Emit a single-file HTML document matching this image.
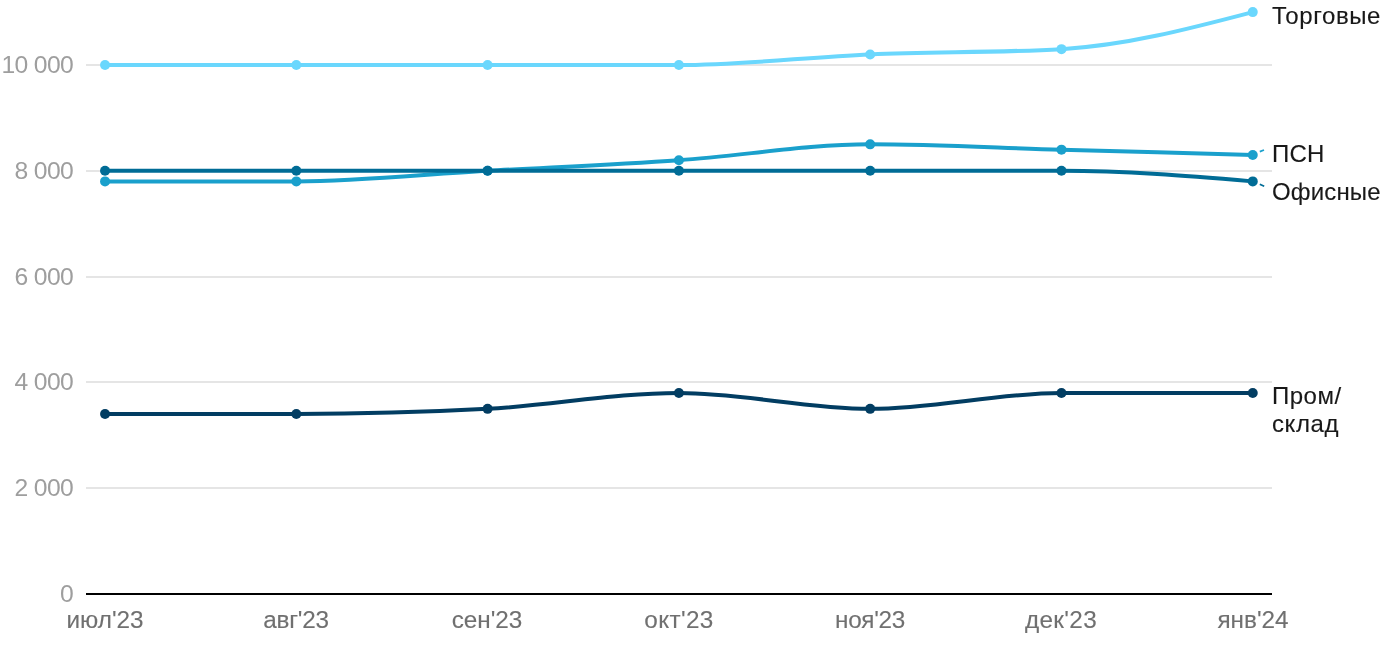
<!DOCTYPE html><html lang="ru"><head><meta charset="utf-8"><title>chart</title><style>

html,body{margin:0;padding:0;background:#fff;}
body{width:1400px;height:650px;position:relative;overflow:hidden;font-family:"Liberation Sans",sans-serif;}
svg{position:absolute;left:0;top:0;}
.yl,.xl,.ll{will-change:transform;}
.yl{position:absolute;left:0;width:73.1px;text-align:right;font-size:24.7px;line-height:24px;color:#9e9e9e;white-space:pre;letter-spacing:-0.65px;}
.xl{position:absolute;top:605.8px;width:160px;margin-left:-80px;text-align:center;font-size:24.3px;line-height:28px;color:#707070;white-space:nowrap;-webkit-text-stroke:0.12px #707070;}
.ll{position:absolute;left:1272px;font-size:24px;line-height:27.6px;color:#181818;white-space:nowrap;-webkit-text-stroke:0.12px #181818;}

</style></head><body>
<svg width="1400" height="650" viewBox="0 0 1400 650"><rect x="86" y="487" width="1186" height="2" fill="#e5e5e5"/><rect x="86" y="381" width="1186" height="2" fill="#e5e5e5"/><rect x="86" y="276" width="1186" height="2" fill="#e5e5e5"/><rect x="86" y="170" width="1186" height="2" fill="#e5e5e5"/><rect x="86" y="64" width="1186" height="2" fill="#e5e5e5"/><path d="M105.05,65.00C168.81,65.00,232.57,65.00,296.33,65.00C360.09,65.00,423.86,65.00,487.62,65.00C551.38,65.00,615.14,65.00,678.90,65.00C742.66,65.00,806.42,57.06,870.18,54.42C933.94,51.77,997.71,52.66,1061.47,49.13C1125.23,45.60,1188.99,28.85,1252.75,12.10" fill="none" stroke="#6ad7fd" stroke-width="4.0" stroke-linejoin="round" stroke-linecap="round"/><circle cx="105.05" cy="65.00" r="5.0" fill="#6ad7fd"/><circle cx="296.33" cy="65.00" r="5.0" fill="#6ad7fd"/><circle cx="487.62" cy="65.00" r="5.0" fill="#6ad7fd"/><circle cx="678.90" cy="65.00" r="5.0" fill="#6ad7fd"/><circle cx="870.18" cy="54.42" r="5.0" fill="#6ad7fd"/><circle cx="1061.47" cy="49.13" r="5.0" fill="#6ad7fd"/><circle cx="1252.75" cy="12.10" r="5.0" fill="#6ad7fd"/><path d="M105.05,181.38C168.81,181.38,232.57,181.38,296.33,181.38C360.09,181.38,423.86,174.33,487.62,170.80C551.38,167.27,615.14,164.63,678.90,160.22C742.66,155.81,806.42,144.35,870.18,144.35C933.94,144.35,997.71,147.88,1061.47,149.64C1125.23,151.40,1188.99,153.17,1252.75,154.93" fill="none" stroke="#1aa0cc" stroke-width="4.0" stroke-linejoin="round" stroke-linecap="round"/><circle cx="105.05" cy="181.38" r="5.0" fill="#1aa0cc"/><circle cx="296.33" cy="181.38" r="5.0" fill="#1aa0cc"/><circle cx="487.62" cy="170.80" r="5.0" fill="#1aa0cc"/><circle cx="678.90" cy="160.22" r="5.0" fill="#1aa0cc"/><circle cx="870.18" cy="144.35" r="5.0" fill="#1aa0cc"/><circle cx="1061.47" cy="149.64" r="5.0" fill="#1aa0cc"/><circle cx="1252.75" cy="154.93" r="5.0" fill="#1aa0cc"/><path d="M105.05,170.80C168.81,170.80,232.57,170.80,296.33,170.80C360.09,170.80,423.86,170.80,487.62,170.80C551.38,170.80,615.14,170.80,678.90,170.80C742.66,170.80,806.42,170.80,870.18,170.80C933.94,170.80,997.71,170.80,1061.47,170.80C1125.23,170.80,1188.99,176.09,1252.75,181.38" fill="none" stroke="#006c96" stroke-width="4.0" stroke-linejoin="round" stroke-linecap="round"/><circle cx="105.05" cy="170.80" r="5.0" fill="#006c96"/><circle cx="296.33" cy="170.80" r="5.0" fill="#006c96"/><circle cx="487.62" cy="170.80" r="5.0" fill="#006c96"/><circle cx="678.90" cy="170.80" r="5.0" fill="#006c96"/><circle cx="870.18" cy="170.80" r="5.0" fill="#006c96"/><circle cx="1061.47" cy="170.80" r="5.0" fill="#006c96"/><circle cx="1252.75" cy="181.38" r="5.0" fill="#006c96"/><path d="M105.05,414.00C168.81,414.00,232.57,414.00,296.33,414.00C360.09,414.00,423.86,412.28,487.62,408.85C551.38,405.42,615.14,392.98,678.90,392.98C742.66,392.98,806.42,408.85,870.18,408.85C933.94,408.85,997.71,392.98,1061.47,392.98C1125.23,392.98,1188.99,392.98,1252.75,392.98" fill="none" stroke="#023d62" stroke-width="4.0" stroke-linejoin="round" stroke-linecap="round"/><circle cx="105.05" cy="414.00" r="5.0" fill="#023d62"/><circle cx="296.33" cy="414.00" r="5.0" fill="#023d62"/><circle cx="487.62" cy="408.85" r="5.0" fill="#023d62"/><circle cx="678.90" cy="392.98" r="5.0" fill="#023d62"/><circle cx="870.18" cy="408.85" r="5.0" fill="#023d62"/><circle cx="1061.47" cy="392.98" r="5.0" fill="#023d62"/><circle cx="1252.75" cy="392.98" r="5.0" fill="#023d62"/><rect x="86" y="593" width="1186" height="2" fill="#000"/><line x1="1259.8" y1="151.6" x2="1264.0" y2="150.0" stroke="#1aa0cc" stroke-width="1.8"/><line x1="1259.8" y1="184.3" x2="1264.2" y2="186.3" stroke="#006c96" stroke-width="1.8"/></svg>
<div class="yl" style="top:582px">0</div>
<div class="yl" style="top:476px">2 000</div>
<div class="yl" style="top:370px">4 000</div>
<div class="yl" style="top:265px">6 000</div>
<div class="yl" style="top:159px">8 000</div>
<div class="yl" style="top:53px">10 000</div>
<div class="xl" style="left:104.55px;letter-spacing:0px">июл'23</div>
<div class="xl" style="left:296.21px;letter-spacing:-0.24px">авг'23</div>
<div class="xl" style="left:486.92px;letter-spacing:0px">сен'23</div>
<div class="xl" style="left:678.77px;letter-spacing:0.35px">окт'23</div>
<div class="xl" style="left:870.03px;letter-spacing:-0.3px">ноя'23</div>
<div class="xl" style="left:1061.04px;letter-spacing:0.35px">дек'23</div>
<div class="xl" style="left:1252.75px;letter-spacing:0px">янв'24</div>
<div class="ll" style="top:1.7px;letter-spacing:0.58px">Торговые</div>
<div class="ll" style="top:139.7px;letter-spacing:0.2px">ПСН</div>
<div class="ll" style="top:177.7px;letter-spacing:0.16px">Офисные</div>
<div class="ll" style="top:381.5px"><span style="letter-spacing:0.5px">Пром/</span><br><span style="letter-spacing:0.6px">склад</span></div>
</body></html>
